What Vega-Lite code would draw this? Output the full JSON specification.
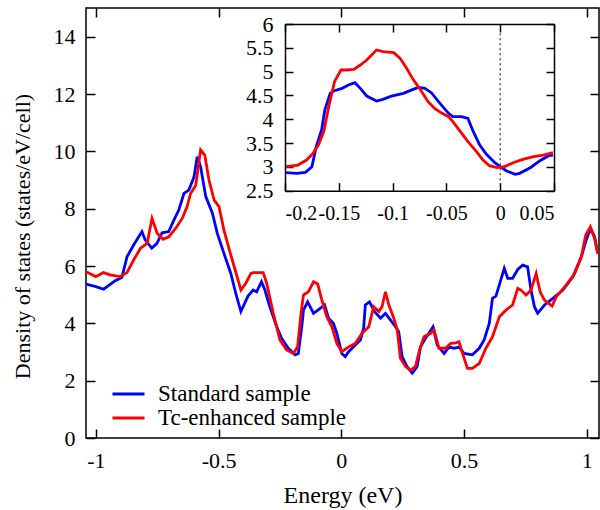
{
"$schema":"https://vega.github.io/schema/vega-lite/v6.json",
"width":513,"height":430,
"autosize":{"type":"none"},
"padding":{"left":86,"top":8,"right":1,"bottom":72},
"background":"white",
"config":{
 "view":{"stroke":"black","strokeWidth":1.5},
 "font":"Liberation Serif",
 "axis":{"labelFont":"Liberation Serif","titleFont":"Liberation Serif","labelFontSize":22,"titleFontSize":22,"titleFontWeight":"normal","labelColor":"black","titleColor":"black","tickColor":"black","domainColor":"black","tickWidth":1.5,"domainWidth":1.5,"grid":false,"tickSize":-9,"labelOverlap":false,"labelExpr":"'' + datum.value"},
 "legend":{"labelFont":"Liberation Serif","labelFontSize":23,"labelLimit":400}
},
"datasets":{
"main":[
{"s":"Standard sample","E":-1.04,"D":5.37},{"s":"Standard sample","E":-1.0,"D":5.28},{"s":"Standard sample","E":-0.968,"D":5.19},{"s":"Standard sample","E":-0.921,"D":5.49},{"s":"Standard sample","E":-0.894,"D":5.6},{"s":"Standard sample","E":-0.873,"D":6.32},{"s":"Standard sample","E":-0.846,"D":6.73},{"s":"Standard sample","E":-0.812,"D":7.2},{"s":"Standard sample","E":-0.799,"D":6.91},{"s":"Standard sample","E":-0.772,"D":6.62},{"s":"Standard sample","E":-0.751,"D":6.79},{"s":"Standard sample","E":-0.73,"D":7.16},{"s":"Standard sample","E":-0.703,"D":7.2},{"s":"Standard sample","E":-0.682,"D":7.6},{"s":"Standard sample","E":-0.662,"D":7.95},{"s":"Standard sample","E":-0.641,"D":8.53},{"s":"Standard sample","E":-0.621,"D":8.65},{"s":"Standard sample","E":-0.6,"D":9.11},{"s":"Standard sample","E":-0.587,"D":9.81},{"s":"Standard sample","E":-0.573,"D":9.46},{"s":"Standard sample","E":-0.552,"D":8.42},{"s":"Standard sample","E":-0.525,"D":7.84},{"s":"Standard sample","E":-0.505,"D":7.14},{"s":"Standard sample","E":-0.478,"D":6.44},{"s":"Standard sample","E":-0.45,"D":5.74},{"s":"Standard sample","E":-0.43,"D":5.05},{"s":"Standard sample","E":-0.409,"D":4.41},{"s":"Standard sample","E":-0.38,"D":4.95},{"s":"Standard sample","E":-0.359,"D":5.16},{"s":"Standard sample","E":-0.345,"D":5.1},{"s":"Standard sample","E":-0.325,"D":5.45},{"s":"Standard sample","E":-0.311,"D":5.16},{"s":"Standard sample","E":-0.291,"D":4.58},{"s":"Standard sample","E":-0.263,"D":3.88},{"s":"Standard sample","E":-0.243,"D":3.48},{"s":"Standard sample","E":-0.216,"D":3.13},{"s":"Standard sample","E":-0.188,"D":2.9},{"s":"Standard sample","E":-0.175,"D":2.95},{"s":"Standard sample","E":-0.161,"D":3.88},{"s":"Standard sample","E":-0.154,"D":4.46},{"s":"Standard sample","E":-0.137,"D":4.75},{"s":"Standard sample","E":-0.113,"D":4.35},{"s":"Standard sample","E":-0.086,"D":4.52},{"s":"Standard sample","E":-0.068,"D":4.64},{"s":"Standard sample","E":-0.052,"D":4.18},{"s":"Standard sample","E":-0.032,"D":4.0},{"s":"Standard sample","E":-0.018,"D":3.65},{"s":"Standard sample","E":0.002,"D":2.95},{"s":"Standard sample","E":0.016,"D":2.84},{"s":"Standard sample","E":0.03,"D":3.01},{"s":"Standard sample","E":0.057,"D":3.24},{"s":"Standard sample","E":0.078,"D":3.42},{"s":"Standard sample","E":0.091,"D":3.83},{"s":"Standard sample","E":0.098,"D":4.64},{"s":"Standard sample","E":0.115,"D":4.75},{"s":"Standard sample","E":0.136,"D":4.41},{"s":"Standard sample","E":0.16,"D":4.18},{"s":"Standard sample","E":0.18,"D":4.35},{"s":"Standard sample","E":0.2,"D":4.12},{"s":"Standard sample","E":0.221,"D":3.88},{"s":"Standard sample","E":0.234,"D":3.71},{"s":"Standard sample","E":0.248,"D":2.84},{"s":"Standard sample","E":0.268,"D":2.49},{"s":"Standard sample","E":0.289,"D":2.26},{"s":"Standard sample","E":0.309,"D":2.49},{"s":"Standard sample","E":0.323,"D":3.18},{"s":"Standard sample","E":0.343,"D":3.48},{"s":"Standard sample","E":0.357,"D":3.65},{"s":"Standard sample","E":0.374,"D":3.88},{"s":"Standard sample","E":0.391,"D":3.24},{"s":"Standard sample","E":0.419,"D":2.95},{"s":"Standard sample","E":0.439,"D":3.18},{"s":"Standard sample","E":0.46,"D":3.13},{"s":"Standard sample","E":0.48,"D":3.18},{"s":"Standard sample","E":0.5,"D":2.95},{"s":"Standard sample","E":0.534,"D":2.9},{"s":"Standard sample","E":0.562,"D":3.13},{"s":"Standard sample","E":0.582,"D":3.42},{"s":"Standard sample","E":0.603,"D":4.0},{"s":"Standard sample","E":0.616,"D":4.87},{"s":"Standard sample","E":0.63,"D":4.95},{"s":"Standard sample","E":0.644,"D":5.34},{"s":"Standard sample","E":0.664,"D":5.92},{"s":"Standard sample","E":0.678,"D":5.57},{"s":"Standard sample","E":0.698,"D":5.57},{"s":"Standard sample","E":0.719,"D":5.88},{"s":"Standard sample","E":0.739,"D":6.03},{"s":"Standard sample","E":0.759,"D":5.97},{"s":"Standard sample","E":0.773,"D":5.16},{"s":"Standard sample","E":0.787,"D":4.58},{"s":"Standard sample","E":0.8,"D":4.35},{"s":"Standard sample","E":0.828,"D":4.64},{"s":"Standard sample","E":0.862,"D":4.87},{"s":"Standard sample","E":0.903,"D":5.16},{"s":"Standard sample","E":0.944,"D":5.63},{"s":"Standard sample","E":0.978,"D":6.32},{"s":"Standard sample","E":0.998,"D":6.91},{"s":"Standard sample","E":1.015,"D":7.31},{"s":"Standard sample","E":1.032,"D":7.02},{"s":"Standard sample","E":1.045,"D":6.44},
{"s":"Tc-enhanced sample","E":-1.04,"D":5.8},{"s":"Tc-enhanced sample","E":-1.0,"D":5.63},{"s":"Tc-enhanced sample","E":-0.989,"D":5.68},{"s":"Tc-enhanced sample","E":-0.969,"D":5.77},{"s":"Tc-enhanced sample","E":-0.942,"D":5.69},{"s":"Tc-enhanced sample","E":-0.901,"D":5.63},{"s":"Tc-enhanced sample","E":-0.873,"D":5.77},{"s":"Tc-enhanced sample","E":-0.846,"D":6.21},{"s":"Tc-enhanced sample","E":-0.818,"D":6.62},{"s":"Tc-enhanced sample","E":-0.791,"D":6.79},{"s":"Tc-enhanced sample","E":-0.771,"D":7.66},{"s":"Tc-enhanced sample","E":-0.75,"D":7.14},{"s":"Tc-enhanced sample","E":-0.726,"D":6.93},{"s":"Tc-enhanced sample","E":-0.703,"D":7.02},{"s":"Tc-enhanced sample","E":-0.675,"D":7.31},{"s":"Tc-enhanced sample","E":-0.648,"D":7.66},{"s":"Tc-enhanced sample","E":-0.628,"D":8.07},{"s":"Tc-enhanced sample","E":-0.614,"D":8.53},{"s":"Tc-enhanced sample","E":-0.593,"D":8.82},{"s":"Tc-enhanced sample","E":-0.573,"D":10.05},{"s":"Tc-enhanced sample","E":-0.556,"D":9.87},{"s":"Tc-enhanced sample","E":-0.539,"D":9.0},{"s":"Tc-enhanced sample","E":-0.518,"D":8.3},{"s":"Tc-enhanced sample","E":-0.498,"D":8.07},{"s":"Tc-enhanced sample","E":-0.478,"D":7.25},{"s":"Tc-enhanced sample","E":-0.45,"D":6.38},{"s":"Tc-enhanced sample","E":-0.43,"D":5.8},{"s":"Tc-enhanced sample","E":-0.409,"D":5.16},{"s":"Tc-enhanced sample","E":-0.389,"D":5.4},{"s":"Tc-enhanced sample","E":-0.368,"D":5.74},{"s":"Tc-enhanced sample","E":-0.359,"D":5.77},{"s":"Tc-enhanced sample","E":-0.318,"D":5.77},{"s":"Tc-enhanced sample","E":-0.304,"D":5.4},{"s":"Tc-enhanced sample","E":-0.277,"D":4.35},{"s":"Tc-enhanced sample","E":-0.25,"D":3.42},{"s":"Tc-enhanced sample","E":-0.223,"D":3.07},{"s":"Tc-enhanced sample","E":-0.195,"D":2.95},{"s":"Tc-enhanced sample","E":-0.178,"D":3.18},{"s":"Tc-enhanced sample","E":-0.164,"D":4.35},{"s":"Tc-enhanced sample","E":-0.154,"D":4.99},{"s":"Tc-enhanced sample","E":-0.134,"D":5.1},{"s":"Tc-enhanced sample","E":-0.113,"D":5.45},{"s":"Tc-enhanced sample","E":-0.096,"D":5.37},{"s":"Tc-enhanced sample","E":-0.079,"D":4.81},{"s":"Tc-enhanced sample","E":-0.059,"D":4.23},{"s":"Tc-enhanced sample","E":-0.038,"D":3.88},{"s":"Tc-enhanced sample","E":-0.018,"D":3.3},{"s":"Tc-enhanced sample","E":0.002,"D":3.01},{"s":"Tc-enhanced sample","E":0.03,"D":3.18},{"s":"Tc-enhanced sample","E":0.057,"D":3.3},{"s":"Tc-enhanced sample","E":0.084,"D":3.65},{"s":"Tc-enhanced sample","E":0.112,"D":3.88},{"s":"Tc-enhanced sample","E":0.132,"D":4.58},{"s":"Tc-enhanced sample","E":0.153,"D":4.41},{"s":"Tc-enhanced sample","E":0.166,"D":4.58},{"s":"Tc-enhanced sample","E":0.18,"D":5.1},{"s":"Tc-enhanced sample","E":0.194,"D":4.64},{"s":"Tc-enhanced sample","E":0.214,"D":4.18},{"s":"Tc-enhanced sample","E":0.228,"D":3.77},{"s":"Tc-enhanced sample","E":0.241,"D":2.78},{"s":"Tc-enhanced sample","E":0.262,"D":2.49},{"s":"Tc-enhanced sample","E":0.282,"D":2.37},{"s":"Tc-enhanced sample","E":0.302,"D":2.49},{"s":"Tc-enhanced sample","E":0.319,"D":3.07},{"s":"Tc-enhanced sample","E":0.337,"D":3.53},{"s":"Tc-enhanced sample","E":0.364,"D":3.65},{"s":"Tc-enhanced sample","E":0.378,"D":3.77},{"s":"Tc-enhanced sample","E":0.398,"D":3.13},{"s":"Tc-enhanced sample","E":0.425,"D":3.13},{"s":"Tc-enhanced sample","E":0.446,"D":3.3},{"s":"Tc-enhanced sample","E":0.466,"D":3.32},{"s":"Tc-enhanced sample","E":0.48,"D":3.36},{"s":"Tc-enhanced sample","E":0.494,"D":2.95},{"s":"Tc-enhanced sample","E":0.514,"D":2.43},{"s":"Tc-enhanced sample","E":0.534,"D":2.43},{"s":"Tc-enhanced sample","E":0.562,"D":2.6},{"s":"Tc-enhanced sample","E":0.589,"D":3.13},{"s":"Tc-enhanced sample","E":0.616,"D":3.53},{"s":"Tc-enhanced sample","E":0.644,"D":4.23},{"s":"Tc-enhanced sample","E":0.671,"D":4.46},{"s":"Tc-enhanced sample","E":0.698,"D":4.64},{"s":"Tc-enhanced sample","E":0.719,"D":5.22},{"s":"Tc-enhanced sample","E":0.732,"D":5.16},{"s":"Tc-enhanced sample","E":0.753,"D":4.99},{"s":"Tc-enhanced sample","E":0.773,"D":5.16},{"s":"Tc-enhanced sample","E":0.794,"D":5.74},{"s":"Tc-enhanced sample","E":0.81,"D":5.1},{"s":"Tc-enhanced sample","E":0.828,"D":4.81},{"s":"Tc-enhanced sample","E":0.859,"D":4.6},{"s":"Tc-enhanced sample","E":0.876,"D":4.93},{"s":"Tc-enhanced sample","E":0.917,"D":5.34},{"s":"Tc-enhanced sample","E":0.951,"D":5.74},{"s":"Tc-enhanced sample","E":0.978,"D":6.32},{"s":"Tc-enhanced sample","E":0.996,"D":7.08},{"s":"Tc-enhanced sample","E":1.015,"D":7.37},{"s":"Tc-enhanced sample","E":1.032,"D":6.97},{"s":"Tc-enhanced sample","E":1.045,"D":6.44}
],
"inset":[
{"s":"Standard sample","E":-0.199,"D":2.878},{"s":"Standard sample","E":-0.189,"D":2.864},{"s":"Standard sample","E":-0.181,"D":2.885},{"s":"Standard sample","E":-0.175,"D":3.004},{"s":"Standard sample","E":-0.171,"D":3.424},{"s":"Standard sample","E":-0.166,"D":3.774},{"s":"Standard sample","E":-0.163,"D":4.194},{"s":"Standard sample","E":-0.158,"D":4.544},{"s":"Standard sample","E":-0.154,"D":4.6},{"s":"Standard sample","E":-0.147,"D":4.649},{"s":"Standard sample","E":-0.141,"D":4.719},{"s":"Standard sample","E":-0.135,"D":4.768},{"s":"Standard sample","E":-0.13,"D":4.649},{"s":"Standard sample","E":-0.124,"D":4.488},{"s":"Standard sample","E":-0.115,"D":4.383},{"s":"Standard sample","E":-0.109,"D":4.418},{"s":"Standard sample","E":-0.101,"D":4.488},{"s":"Standard sample","E":-0.09,"D":4.544},{"s":"Standard sample","E":-0.081,"D":4.628},{"s":"Standard sample","E":-0.076,"D":4.67},{"s":"Standard sample","E":-0.07,"D":4.649},{"s":"Standard sample","E":-0.064,"D":4.558},{"s":"Standard sample","E":-0.056,"D":4.334},{"s":"Standard sample","E":-0.048,"D":4.124},{"s":"Standard sample","E":-0.044,"D":4.054},{"s":"Standard sample","E":-0.036,"D":4.054},{"s":"Standard sample","E":-0.03,"D":4.019},{"s":"Standard sample","E":-0.025,"D":3.739},{"s":"Standard sample","E":-0.019,"D":3.459},{"s":"Standard sample","E":-0.013,"D":3.27},{"s":"Standard sample","E":-0.005,"D":3.088},{"s":"Standard sample","E":0.0,"D":3.004},{"s":"Standard sample","E":0.006,"D":2.913},{"s":"Standard sample","E":0.014,"D":2.843},{"s":"Standard sample","E":0.018,"D":2.864},{"s":"Standard sample","E":0.028,"D":2.983},{"s":"Standard sample","E":0.037,"D":3.13},{"s":"Standard sample","E":0.045,"D":3.235},{"s":"Standard sample","E":0.049,"D":3.249},
{"s":"Tc-enhanced sample","E":-0.199,"D":3.004},{"s":"Tc-enhanced sample","E":-0.188,"D":3.039},{"s":"Tc-enhanced sample","E":-0.18,"D":3.144},{"s":"Tc-enhanced sample","E":-0.174,"D":3.284},{"s":"Tc-enhanced sample","E":-0.169,"D":3.459},{"s":"Tc-enhanced sample","E":-0.164,"D":3.739},{"s":"Tc-enhanced sample","E":-0.16,"D":4.194},{"s":"Tc-enhanced sample","E":-0.154,"D":4.789},{"s":"Tc-enhanced sample","E":-0.148,"D":5.034},{"s":"Tc-enhanced sample","E":-0.143,"D":5.034},{"s":"Tc-enhanced sample","E":-0.136,"D":5.048},{"s":"Tc-enhanced sample","E":-0.13,"D":5.139},{"s":"Tc-enhanced sample","E":-0.124,"D":5.244},{"s":"Tc-enhanced sample","E":-0.115,"D":5.454},{"s":"Tc-enhanced sample","E":-0.109,"D":5.419},{"s":"Tc-enhanced sample","E":-0.099,"D":5.398},{"s":"Tc-enhanced sample","E":-0.093,"D":5.279},{"s":"Tc-enhanced sample","E":-0.087,"D":5.069},{"s":"Tc-enhanced sample","E":-0.081,"D":4.838},{"s":"Tc-enhanced sample","E":-0.075,"D":4.649},{"s":"Tc-enhanced sample","E":-0.067,"D":4.369},{"s":"Tc-enhanced sample","E":-0.061,"D":4.229},{"s":"Tc-enhanced sample","E":-0.054,"D":4.124},{"s":"Tc-enhanced sample","E":-0.048,"D":4.054},{"s":"Tc-enhanced sample","E":-0.044,"D":3.949},{"s":"Tc-enhanced sample","E":-0.037,"D":3.739},{"s":"Tc-enhanced sample","E":-0.03,"D":3.529},{"s":"Tc-enhanced sample","E":-0.022,"D":3.319},{"s":"Tc-enhanced sample","E":-0.016,"D":3.144},{"s":"Tc-enhanced sample","E":-0.01,"D":3.025},{"s":"Tc-enhanced sample","E":-0.003,"D":2.983},{"s":"Tc-enhanced sample","E":0.004,"D":3.004},{"s":"Tc-enhanced sample","E":0.012,"D":3.088},{"s":"Tc-enhanced sample","E":0.021,"D":3.158},{"s":"Tc-enhanced sample","E":0.031,"D":3.214},{"s":"Tc-enhanced sample","E":0.04,"D":3.249},{"s":"Tc-enhanced sample","E":0.049,"D":3.298}
],
"fermi":[{"E":0,"lo":2.72,"hi":5.8}]
},
"layer":[
{"data":{"name":"main"},"mark":{"type":"line","strokeWidth":2.8,"clip":true},
 "encoding":{
  "x":{"field":"E","type":"quantitative","scale":{"domain":[-1.04,1.05],"nice":false,"zero":false},
   "axis":{"orient":"bottom","values":[-1,-0.5,0,0.5,1],"domain":false,"labelPadding":21,"title":"Energy (eV)","titleFontSize":24,"titleY":45,"titleBaseline":"top"}},
  "y":{"field":"D","type":"quantitative","scale":{"domain":[0,15],"nice":false},
   "axis":{"orient":"left","values":[0,2,4,6,8,10,12,14],"domain":false,"labelPadding":20,"title":"Density of states (states/eV/cell)","titleX":-64,"titleY":228,"titleBaseline":"middle"}},
  "color":{"field":"s","type":"nominal","scale":{"domain":["Standard sample","Tc-enhanced sample"],"range":["#0000ff","#ff0000"]},
   "legend":{"orient":"none","legendX":25,"legendY":374,"title":null,"symbolType":"stroke","symbolSize":1024,"symbolStrokeWidth":3,"labelColor":"black","clipHeight":24,"rowPadding":0,"labelOffset":12,"padding":0}}
 }},
{"data":{"name":"main"},"mark":{"type":"point","opacity":0},
 "encoding":{
  "x":{"field":"E","type":"quantitative","scale":{"domain":[-1.04,1.05],"nice":false,"zero":false},
   "axis":{"orient":"top","values":[-1,-0.5,0,0.5,1],"domain":false,"labels":false,"title":null}},
  "y":{"field":"D","type":"quantitative","scale":{"domain":[0,15],"nice":false},
   "axis":{"orient":"right","values":[0,2,4,6,8,10,12,14],"domain":false,"labels":false,"title":null}}
 }},
{"data":{"name":"inset"},"mark":{"type":"line","strokeWidth":2.8},
 "encoding":{
  "x":{"field":"E","type":"quantitative","scale":{"domain":[-0.2,0.05],"range":[199,468],"nice":false,"zero":false},
   "axis":{"orient":"bottom","offset":-247.3,"values":[-0.2,-0.15,-0.1,-0.05,0,0.05],"labelPadding":21,"labelFontSize":20,"title":null,"tickSize":-8}},
  "y":{"field":"D","type":"quantitative","scale":{"domain":[2.5,6],"range":[182.7,16],"nice":false,"zero":false},
   "axis":{"orient":"left","offset":-199,"values":[2.5,3,3.5,4,4.5,5,5.5,6],"labelPadding":20,"title":null,"tickSize":-8}},
  "color":{"field":"s","type":"nominal"}
 }},
{"data":{"name":"inset"},"mark":{"type":"point","opacity":0},
 "encoding":{
  "x":{"field":"E","type":"quantitative","scale":{"domain":[-0.2,0.05],"range":[199,468],"nice":false,"zero":false},
   "axis":{"orient":"top","offset":-16,"values":[-0.2,-0.15,-0.1,-0.05,0,0.05],"labels":false,"title":null,"tickSize":-8}},
  "y":{"field":"D","type":"quantitative","scale":{"domain":[2.5,6],"range":[182.7,16],"nice":false,"zero":false},
   "axis":{"orient":"right","offset":-45,"values":[2.5,3,3.5,4,4.5,5,5.5,6],"labels":false,"title":null,"tickSize":-8}}
 }},
{"data":{"name":"fermi"},"mark":{"type":"rule","color":"#555555","strokeDash":[2,3],"strokeWidth":1.5},
 "encoding":{
  "x":{"field":"E","type":"quantitative","scale":{"domain":[-0.2,0.05],"range":[199,468],"nice":false,"zero":false},"axis":null},
  "y":{"field":"lo","type":"quantitative","scale":{"domain":[2.5,6],"range":[182.7,16],"nice":false,"zero":false},"axis":null},
  "y2":{"field":"hi"}
 }}
],
"resolve":{"scale":{"x":"independent","y":"independent"},"axis":{"x":"independent","y":"independent"}}
}
